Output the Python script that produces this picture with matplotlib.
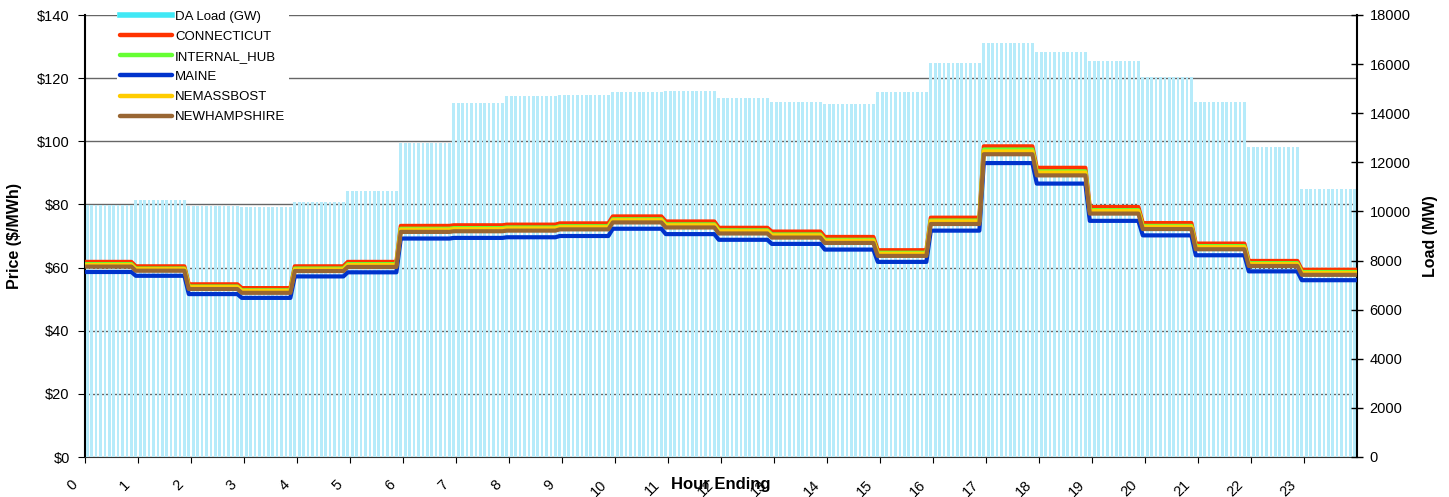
import numpy as np
import matplotlib.pyplot as plt
from matplotlib.lines import Line2D
from matplotlib.ticker import FuncFormatter
import matplotlib.transforms as mtransforms

plt.rcParams['font.family'] = ['Liberation Sans', 'DejaVu Sans']

hours = list(range(24))

# hourly values
da_load = [10280, 10460, 10230, 10200, 10380, 10820, 12770, 14400, 14700, 14750, 14850, 14890,
           14610, 14440, 14380, 14850, 16040, 16860, 16480, 16130, 15480, 14460, 12610, 10910]
connecticut = [61.8, 60.4, 54.7, 53.5, 60.4, 61.8, 73.2, 73.4, 73.6, 74.0, 76.2, 74.6,
               72.6, 71.4, 69.7, 65.5, 75.8, 98.4, 91.6, 79.2, 74.1, 67.6, 62.1, 59.3]
internal_hub = [61.1, 59.7, 54.0, 52.8, 59.7, 61.1, 72.3, 72.5, 72.7, 73.1, 75.3, 73.7,
                71.8, 70.5, 68.8, 64.7, 74.9, 97.4, 90.5, 78.2, 73.2, 66.8, 61.4, 58.6]
maine = [58.6, 57.4, 51.6, 50.4, 57.2, 58.5, 69.2, 69.4, 69.6, 70.0, 72.3, 70.6,
         68.8, 67.5, 65.7, 61.8, 71.7, 93.1, 86.6, 74.8, 70.2, 63.9, 58.8, 56.0]
nemassbost = [60.8, 59.5, 53.8, 52.6, 59.4, 60.8, 72.0, 72.2, 72.4, 72.8, 75.0, 73.4,
              71.5, 70.2, 68.5, 64.4, 74.6, 96.8, 90.1, 77.9, 72.9, 66.5, 61.1, 58.3]
newhampshire = [60.3, 59.0, 53.2, 52.0, 58.9, 60.2, 71.3, 71.5, 71.7, 72.1, 74.3, 72.7,
                70.8, 69.5, 67.8, 63.7, 73.8, 95.9, 89.2, 77.1, 72.2, 65.8, 60.5, 57.7]

series = [
    ("CONNECTICUT", connecticut, "#ff3300"),
    ("INTERNAL_HUB", internal_hub, "#66ff33"),
    ("MAINE", maine, "#0033cc"),
    ("NEMASSBOST", nemassbost, "#ffcc00"),
    ("NEWHAMPSHIRE", newhampshire, "#996633"),
]

# chart is drawn on 5-minute intervals: first hour has 11 of them, last one 13
per_hour = [11] + [12] * 22 + [13]
x = (np.arange(288) + 0.5) / 12

fig = plt.figure(figsize=(14.49, 4.97), dpi=100)
pos = [85 / 1449, 40 / 497, 1272 / 1449, 442 / 497]
axL = fig.add_axes(pos)
axR = axL.twinx()
axP = fig.add_axes(pos, sharex=axL, sharey=axL)
axL.set_zorder(1)
axR.set_zorder(2)
axP.set_zorder(3)
axR.patch.set_visible(False)
axP.patch.set_visible(False)
axP.axis('off')

# load bars (right axis)
axR.bar(x, np.repeat(da_load, per_hour), width=0.6 / 12, color='#b6ebfa', lw=0)
axR.set_ylim(0, 18000)
axR.set_yticks(range(0, 18001, 2000))
axR.tick_params(axis='y', direction='inout', length=8, width=1, labelsize=10.5, pad=5)
for s in ['top', 'left', 'bottom']:
    axR.spines[s].set_visible(False)
axR.spines['right'].set_linewidth(1.5)
axR.set_ylabel('Load (MW)', fontsize=11.5, fontweight='bold')
axR.yaxis.set_label_coords(1.052, 0.5)

# price lines
for name, vals, col in series:
    axP.plot(x, np.repeat(vals, per_hour), color=col, lw=3, label=name)

axL.set_xlim(0, 24)
axL.set_ylim(0, 140)
axL.set_yticks(range(0, 141, 20))
axL.yaxis.set_major_formatter(FuncFormatter(lambda v, p: '${:.0f}'.format(v)))
axL.yaxis.grid(True, color='#666666', lw=1)
axL.set_axisbelow(True)
axL.tick_params(axis='y', direction='out', length=5, labelsize=10.5, pad=6)
axL.set_xticks(hours)
axL.set_xticklabels([str(h) for h in hours], rotation=45, ha='right', va='top')
axL.tick_params(axis='x', direction='out', length=4, labelsize=10.5, pad=11)
offset = mtransforms.ScaledTranslation(-0.05, 0, fig.dpi_scale_trans)
for lab in axL.get_xticklabels():
    lab.set_transform(lab.get_transform() + offset)
axL.spines['top'].set_visible(False)
axL.spines['right'].set_visible(False)
axL.spines['left'].set_linewidth(1.5)
axL.spines['bottom'].set_color('#333333')
axL.set_ylabel('Price ($/MWh)', fontsize=11.5, fontweight='bold')
axL.yaxis.set_label_coords(-0.0495, 0.5)
axL.set_xlabel('Hour Ending', fontsize=12, fontweight='bold')
axL.xaxis.label.set_va('center')
axL.xaxis.set_label_coords(0.5, -0.063)

handles = [Line2D([], [], color='#40e8f5', lw=4)] + \
          [Line2D([], [], color=c, lw=3.2, solid_capstyle='round') for _, _, c in series]
labels = ['DA Load (GW)'] + [n for n, _, _ in series]
leg = axP.legend(handles, labels, loc='upper left',
                 bbox_to_anchor=(117 / 1449, 490 / 497), bbox_transform=fig.transFigure,
                 borderaxespad=0, borderpad=0.25, handlelength=3.9, handletextpad=0.25,
                 labelspacing=0.6, fontsize=9.5, frameon=True, fancybox=False,
                 edgecolor='none', facecolor='white', framealpha=1)

fig.savefig('out.png', dpi=100)
